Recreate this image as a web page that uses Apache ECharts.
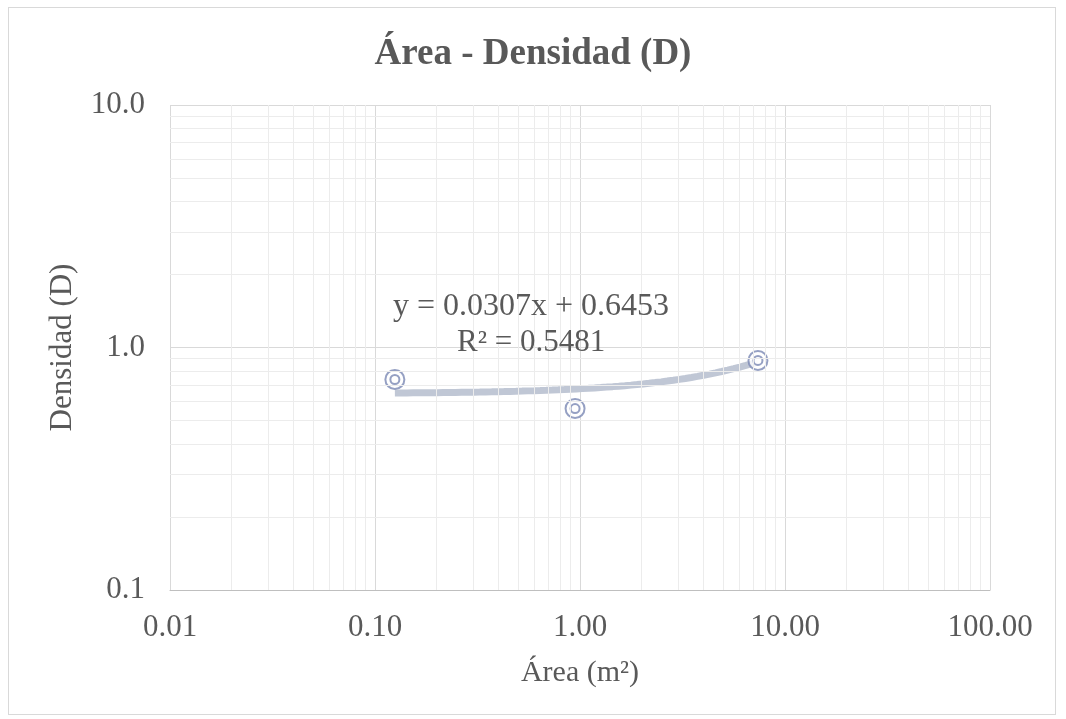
<!DOCTYPE html>
<html>
<head>
<meta charset="utf-8">
<script src="https://cdn.jsdelivr.net/npm/echarts@6/dist/echarts.min.js"></script>
<style>
html,body{margin:0;padding:0;background:#fff;}
#wrap{position:absolute;left:8px;top:7px;width:1048px;height:708px;border:1px solid #d9d9d9;box-sizing:border-box;}
#chart{position:absolute;left:0;top:0;width:1066px;height:719px;}
</style>
</head>
<body>
<div id="wrap"></div>
<div id="chart"></div>
<script>
// Data
const areaValues = [0.125, 0.946, 7.38];
const densityValues = [0.738, 0.56, 0.884];
const xTickLabels = ['0.01', '0.10', '1.00', '10.00', '100.00'];
const yTickLabels = ['0.1', '1.0', '10.0'];
const trendSlope = 0.0307;
const trendIntercept = 0.6453;
const trendLabel = 'y = 0.0307x + 0.6453';
const r2Label = 'R² = 0.5481';

const font = 'Liberation Serif';
const txt = '#595959';
const markerColor = '#7b88b4';

// trendline curve (linear fit drawn on log axes)
const xMin = Math.min(...areaValues), xMax = Math.max(...areaValues);
const trendPts = [];
const nSteps = 60;
for (let i = 0; i <= nSteps; i++) {
  const lx = Math.log10(xMin) + (Math.log10(xMax) - Math.log10(xMin)) * i / nSteps;
  const x = Math.pow(10, lx);
  trendPts.push([x, trendSlope * x + trendIntercept]);
}

// minor grid values (2..9 per decade)
const minorX = [], minorY = [];
[0.01, 0.1, 1, 10].forEach(d => { for (let k = 2; k <= 9; k++) minorX.push(+(k * d).toPrecision(3)); });
[0.1, 1].forEach(d => { for (let k = 2; k <= 9; k++) minorY.push(+(k * d).toPrecision(3)); });

const pts = areaValues.map((x, i) => [x, densityValues[i]]);

const chart = echarts.init(document.getElementById('chart'));
chart.setOption({
  backgroundColor: 'transparent',
  animation: false,
  title: {
    text: 'Área - Densidad (D)', left: 'center', top: 31,
    textStyle: { fontFamily: font, fontSize: 37, fontWeight: 'bold', color: txt }
  },
  grid: { left: 170, right: 76, top: 105, bottom: 129 },
  xAxis: {
    type: 'log', logBase: 10, min: 0.01, max: 100,
    name: 'Área (m²)', nameLocation: 'middle', nameGap: 68,
    nameTextStyle: { fontFamily: font, fontSize: 30, color: txt },
    axisLine: { show: true, lineStyle: { color: '#bfbfbf', width: 1 } },
    axisTick: { show: false },
    axisLabel: {
      fontFamily: font, fontSize: 31, color: txt, margin: 22,
      formatter: v => { const i = Math.round(Math.log10(v)) + 2; return xTickLabels[i] || ''; }
    },
    splitLine: { show: true, lineStyle: { color: '#d9d9d9', width: 1 } }
  },
  yAxis: {
    type: 'log', logBase: 10, min: 0.1, max: 10,
    name: 'Densidad (D)', nameLocation: 'middle', nameGap: 92,
    nameTextStyle: { fontFamily: font, fontSize: 31, color: txt },
    axisLine: { show: false },
    axisTick: { show: false },
    axisLabel: {
      fontFamily: font, fontSize: 31, color: txt, margin: 25,
      formatter: v => { const i = Math.round(Math.log10(v)) + 1; return yTickLabels[i] || ''; }
    },
    splitLine: { show: true, lineStyle: { color: '#d9d9d9', width: 1 } }
  },
  series: [
    {
      type: 'line', data: [], silent: true,
      markLine: {
        silent: true, symbol: 'none', label: { show: false },
        lineStyle: { color: '#ececec', width: 1, type: 'solid' },
        data: minorX.map(v => ({ xAxis: v })).concat(minorY.map(v => ({ yAxis: v })))
      },
      z: 1
    },
    {
      type: 'line', data: trendPts, showSymbol: false, smooth: false,
      lineStyle: { color: '#c0c7d5', width: 7, cap: 'butt' }, z: 2
    },
    {
      type: 'scatter', data: pts, symbol: 'emptyCircle', symbolSize: 19,
      itemStyle: { color: markerColor, borderColor: markerColor, borderWidth: 3 }, z: 3
    },
    {
      type: 'scatter', data: pts, symbol: 'emptyCircle', symbolSize: 9,
      itemStyle: { color: markerColor, borderColor: markerColor, borderWidth: 2.5 }, z: 4
    }
  ],
  graphic: [
    { type: 'text', left: 393, top: 291, z: 10,
      style: { text: trendLabel, fontFamily: font, fontSize: 32, fill: txt } },
    { type: 'text', left: 457, top: 327, z: 10,
      style: { text: r2Label, fontFamily: font, fontSize: 31, fill: txt } }
  ]
});
</script>
</body>
</html>
